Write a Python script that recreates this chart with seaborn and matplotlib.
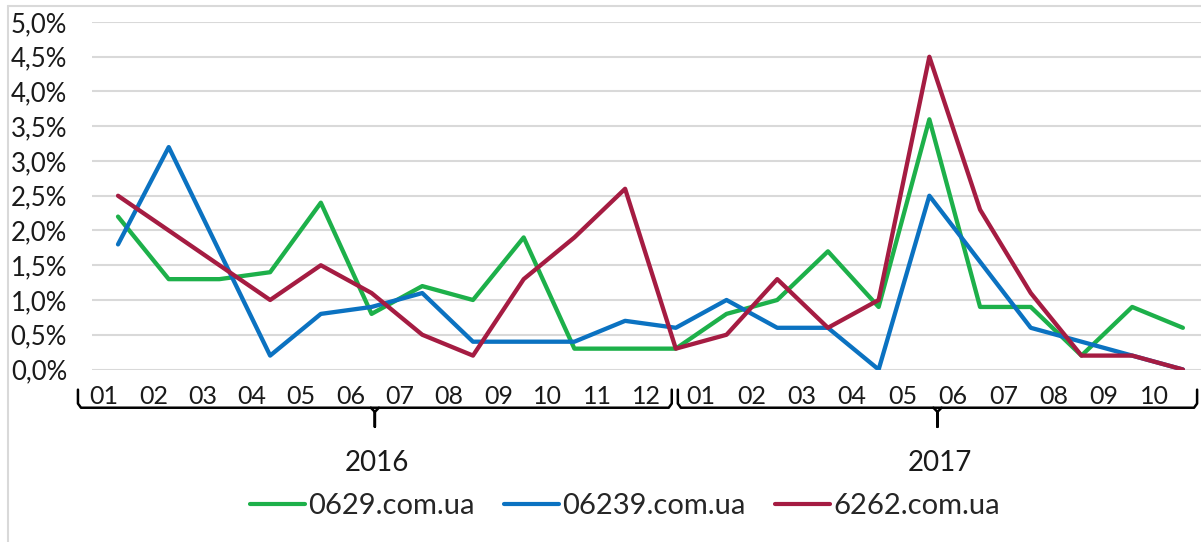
import numpy as np
import pandas as pd
import seaborn as sns
import matplotlib.pyplot as plt
from matplotlib.ticker import FuncFormatter, MultipleLocator
from matplotlib.lines import Line2D

# data (values in %)
months_2016 = ["01", "02", "03", "04", "05", "06", "07", "08", "09", "10", "11", "12"]
months_2017 = ["01", "02", "03", "04", "05", "06", "07", "08", "09", "10"]
sites = ["0629.com.ua", "06239.com.ua", "6262.com.ua"]
site_0629 = [2.2, 1.3, 1.3, 1.4, 2.4, 0.8, 1.2, 1.0, 1.9, 0.3, 0.3, 0.3,
             0.8, 1.0, 1.7, 0.9, 3.6, 0.9, 0.9, 0.2, 0.9, 0.6]
site_06239 = [1.8, 3.2, 1.7, 0.2, 0.8, 0.9, 1.1, 0.4, 0.4, 0.4, 0.7, 0.6,
              1.0, 0.6, 0.6, 0.0, 2.5, 1.55, 0.6, 0.4, 0.2, 0.0]
site_6262 = [2.5, 2.0, 1.5, 1.0, 1.5, 1.1, 0.5, 0.2, 1.3, 1.9, 2.6, 0.3,
             0.5, 1.3, 0.6, 1.0, 4.5, 2.3, 1.1, 0.2, 0.2, 0.0]
colors = ["#1DB04A", "#0B72C1", "#A51C42"]

n = len(months_2016) + len(months_2017)
df = pd.DataFrame({
    "idx": np.tile(np.arange(n), 3),
    "value": site_0629 + site_06239 + site_6262,
    "site": np.repeat(sites, n),
})

sns.set_style("white")
plt.rcParams['font.family'] = ['Lato', 'DejaVu Sans']

fig = plt.figure(figsize=(12.01, 5.42), dpi=100)
ax = fig.add_axes([92 / 1201, (542 - 369.5) / 542, 1 - 92 / 1201, 347.5 / 542])

sns.lineplot(data=df, x="idx", y="value", hue="site", hue_order=sites,
             palette=dict(zip(sites, colors)), linewidth=3.1, ax=ax, legend=False)

ax.set_xlim(-0.513, 21.357)
ax.set_ylim(0, 5)
ax.yaxis.set_major_locator(MultipleLocator(0.5))
ax.yaxis.set_major_formatter(FuncFormatter(lambda v, _: f"{v:.1f}%".replace(".", ",")))
ax.grid(axis='y', color="#D9D9D9", linewidth=1.5)
ax.set_axisbelow(True)
for s in ax.spines.values():
    s.set_visible(False)
ax.tick_params(axis='y', length=0, pad=18, labelsize=18.5, labelcolor="#1a1a1a")
ax.set_xlabel("")
ax.set_ylabel("")

# month labels inside the two year brackets
seg16_start, step16 = -0.76, 0.972
seg17_start, step17 = 11.0, 0.994
pos16 = [seg16_start + step16 * (k + 0.5) for k in range(len(months_2016))]
pos17 = [seg17_start + step17 * (k + 0.5) for k in range(len(months_2017))]
ax.set_xticks([])
tr = ax.get_xaxis_transform()
for p, m in zip(pos16 + pos17, months_2016 + months_2017):
    ax.text(p, -0.079, m, transform=tr, ha='center', va='center', fontsize=18, color="#1a1a1a")

# brackets
y_line, y_curl, y_tick = -0.110, -0.058, -0.165
brackets = [(-0.79, 10.92), (11.04, 21.28)]
for x0, x1 in brackets:
    xs = [x0, x0, x0 + 0.06, x1 - 0.06, x1, x1]
    ys = [y_curl, y_line + 0.012, y_line, y_line, y_line + 0.012, y_curl]
    ax.add_line(Line2D(xs, ys, transform=tr, color="black", lw=1.8, clip_on=False))
    xm = (x0 + x1) / 2
    ax.add_line(Line2D([xm - 0.08, xm, xm, xm, xm + 0.08], [y_line, y_line - 0.012, y_tick, y_line - 0.012, y_line],
                       transform=tr, color="black", lw=1.8, clip_on=False))

for (x0, x1), yr in zip(brackets, ["2016", "2017"]):
    ax.text((x0 + x1) / 2 + 0.05, -0.269, yr, transform=tr, ha='center', va='center', fontsize=20, color="#1a1a1a")

handles = [Line2D([], [], color=c, lw=3) for c in colors]
ax.legend(handles, sites, loc='center', bbox_to_anchor=(0.4806, -0.393), ncol=3, frameon=False,
          fontsize=21, handlelength=1.9, handletextpad=0.1, columnspacing=1.0)

# chart area border
fig.add_artist(Line2D([8 / 1201, 8 / 1201], [0, 1 - 6 / 542], transform=fig.transFigure, color="#D9D9D9", lw=1.5))
fig.add_artist(Line2D([8 / 1201, 1], [1 - 6 / 542, 1 - 6 / 542], transform=fig.transFigure, color="#D9D9D9", lw=1.5))

fig.savefig("out.png", dpi=100)
